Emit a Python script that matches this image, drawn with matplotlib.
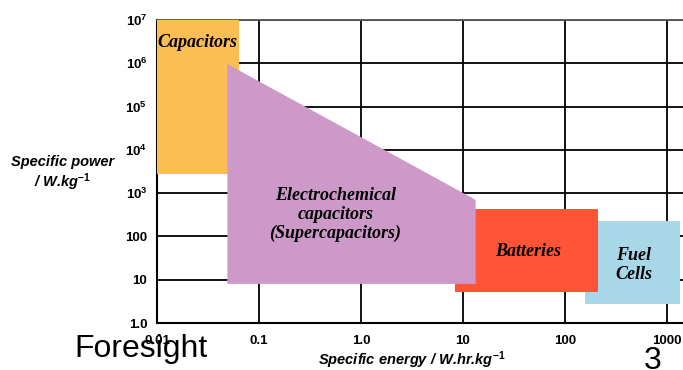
import matplotlib
matplotlib.use("Agg")
import matplotlib.pyplot as plt
from matplotlib.patches import Polygon, Rectangle

plt.rcParams['mathtext.fontset'] = 'custom'
plt.rcParams['mathtext.rm'] = 'Liberation Sans:bold'
plt.rcParams['mathtext.it'] = 'Liberation Sans:bold:italic'

# data (specific energy W.hr/kg, specific power W/kg)
capacitors_x = [0.01, 0.064]
capacitors_y = [2800, 1e7]
supercap_x = [0.049, 0.049, 13.3, 13.3]
supercap_y = [8, 9.6e5, 700, 8]
batteries_x = [8.3, 210]
batteries_y = [5.3, 430]
fuelcells_x = [157, 1330]
fuelcells_y = [2.8, 228]

xticks = [0.01, 0.1, 1, 10, 100, 1000]
xlabels = ['0.01', '0.1', '1.0', '10', '100', '1000']
yticks = [1, 10, 100, 1e3, 1e4, 1e5, 1e6, 1e7]
ylabels = ['1.0', '10', '100', '$10^3$', '$10^4$', '$10^5$', '$10^6$', '$10^7$']

fig = plt.figure(figsize=(6.83, 3.70), dpi=100)
ax = fig.add_axes([157/683, 47/370, 526/683, 303/370])
ax.set_xscale('log')
ax.set_yscale('log')
ax.set_xlim(0.01, 1436)
ax.set_ylim(1, 1e7)

ax.set_xticks(xticks)
ax.set_xticklabels(xlabels)
ax.set_yticks(yticks)
ax.set_yticklabels(ylabels)
ax.minorticks_off()
ax.tick_params(length=0, labelsize=9.5)
ax.tick_params(axis='x', pad=9)
ax.tick_params(axis='y', pad=7)
for lab in ax.get_xticklabels() + ax.get_yticklabels():
    lab.set_family('Liberation Sans')
    lab.set_fontweight('bold')

ax.grid(True, color='black', lw=1.3)
ax.set_axisbelow(True)
ax.spines['right'].set_visible(False)
ax.spines['top'].set_color('#555555')
ax.spines['top'].set_linewidth(1.3)
ax.spines['left'].set_linewidth(1.5)
ax.spines['bottom'].set_linewidth(1.5)

def box(xs, ys, color, z):
    r = Rectangle((xs[0], ys[0]), xs[1]-xs[0], ys[1]-ys[0],
                  facecolor=color, edgecolor='none', zorder=z)
    ax.add_patch(r)

box(fuelcells_x, fuelcells_y, '#a8d7e8', 3)
box(batteries_x, batteries_y, '#ff5436', 4)
box(capacitors_x, capacitors_y, '#fbbe55', 5)
ax.add_patch(Polygon(list(zip(supercap_x, supercap_y)), closed=True,
                     facecolor='#cc99c8', edgecolor='none', zorder=6))

tkw = dict(family='Liberation Serif', style='italic', weight='bold',
           fontsize=13, ha='center', va='center', zorder=10, linespacing=1.15)
ax.text(0.0251, 3.1e6, 'Capacitors', **tkw)
ax.text(0.56, 316, 'Electrochemical\ncapacitors\n(Supercapacitors)', **tkw)
ax.text(43.6, 44, 'Batteries', **tkw)
ax.text(474, 22, 'Fuel\nCells', **tkw)

fig.text(63/683, 1-174/370, 'Specific power\n/ W.kg$^{-1}$', family='Liberation Sans',
         style='italic', weight='bold', fontsize=10.5, ha='center', va='center')
fig.text(412/683, 1-360/370, 'Specific energy / W.hr.kg$^{-1}$', family='Liberation Sans',
         style='italic', weight='bold', fontsize=10.5, ha='center', va='center')

fig.text(74/683, 1-357/370, 'Foresight', family='Liberation Sans', fontsize=23,
         ha='left', va='baseline')
fig.text(653/683, 1-369/370, '3', family='Liberation Sans', fontsize=23,
         ha='center', va='baseline')

fig.savefig('out.png', dpi=100)
